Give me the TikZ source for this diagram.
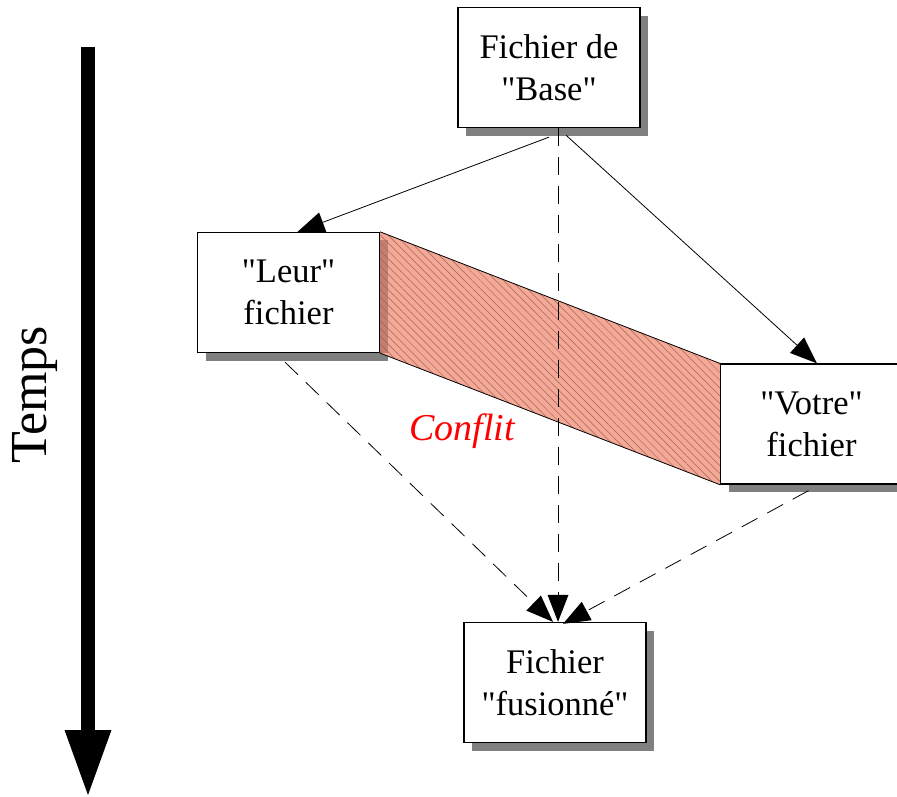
\documentclass[tikz,border=0pt]{standalone}
\usepackage{fontspec}
\setmainfont{Liberation Serif}[Ligatures=TeXOff]
\usetikzlibrary{arrows.meta,shadows,patterns.meta}
\definecolor{conflit}{HTML}{F4A896}
\definecolor{hachure}{HTML}{A0645A}
\definecolor{conflitombre}{HTML}{C47E70}

\begin{document}
\begin{tikzpicture}[x=1pt,y=-1pt,
    fichier/.style={draw=black,line width=1.3pt,fill=white,minimum width=182pt,minimum height=120pt,align=center,
        font=\fontsize{34.5}{42}\selectfont,drop shadow={shadow xshift=8pt,shadow yshift=-8pt,fill=black!50,opacity=1}},
    fleche/.style={-{Triangle[length=27pt,width=21pt,line width=0pt]},line width=0.8pt},
    tirets/.style={fleche,dash pattern=on 18pt off 11pt}]
    \useasboundingbox (0,0) rectangle (897,796);

    \node[fichier,name=base] at (549,67.5) {Fichier de\\"Base"};
    \node[fichier,name=leur] at (288.5,292.5) {"Leur"\\fichier};
    \node[fichier,name=votre] at (811.5,424) {"Votre"\\fichier};
    \node[fichier,name=fusion] at (555,682.5) {Fichier\\"fusionné"};

    % zone de conflit
    \fill[conflit] (leur.north east) -- (votre.north west) -- (votre.south west) -- (leur.south east) -- cycle;
    \fill[conflitombre] ([yshift=-8pt]leur.north east) rectangle ([xshift=8pt]leur.south east);
    \path[pattern={Lines[angle=-45,distance=5.5pt,line width=0.5pt]},pattern color=hachure]
        (leur.north east) -- (votre.north west) -- (votre.south west) -- (leur.south east) -- cycle;
    \draw[line width=0.8pt] (leur.north east) -- (votre.north west)
                            (leur.south east) -- (votre.south west);
    \node[text=red,font=\fontsize{38}{44}\selectfont\itshape,name=conflitlabel] at (462,431) {Conflit};

    \path[fleche] ([yshift=-9pt]base.south) edge ([xshift=9pt]leur.north)
                  ([xshift=17pt,yshift=-7pt]base.south) edge ([xshift=5.5pt]votre.north);
    \path[tirets] ([xshift=9pt]base.south) edge ([xshift=3pt]fusion.north)
                  ([xshift=-3.5pt,yshift=-9pt]leur.south) edge ([xshift=-2pt]fusion.north)
                  ([xshift=-3pt,yshift=-6pt]votre.south) edge ([xshift=8pt,yshift=-2pt]fusion.north);

    % axe du temps
    \coordinate (debut) at (88,47);
    \coordinate (fin) at (88,795);
    \draw[line width=14pt,-{Triangle[length=65pt,width=47pt,line width=0pt]}] (debut) -- (fin);
    \node[rotate=90,font=\fontsize{52}{60}\selectfont,name=temps] at (35,395) {Temps};
\end{tikzpicture}
\end{document}
